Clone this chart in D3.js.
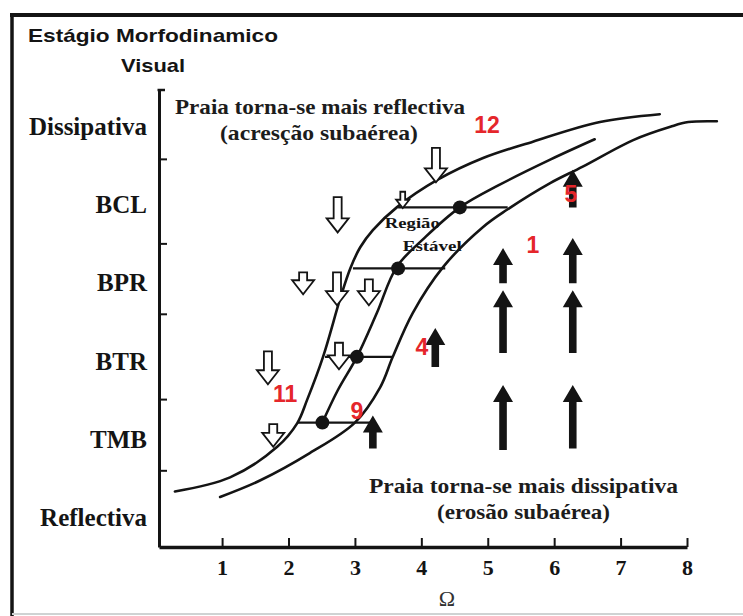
<!DOCTYPE html>
<html>
<head>
<meta charset="utf-8">
<script src="https://cdn.jsdelivr.net/npm/d3@7/dist/d3.min.js"></script>
<style>
  html, body { margin: 0; padding: 0; background: #fff; }
  svg { display: block; }
</style>
</head>
<body>
<svg id="chart" width="743" height="616"></svg>
<script>
// Morphodynamic stage (y) against dimensionless fall velocity Omega (x)
const stageLabels = ["Reflectiva", "TMB", "BTR", "BPR", "BCL", "Dissipativa"];
const stageValues = [0, 1, 2, 3, 4, 5];
const stageTicks = [0.60, 1.51, 2.60, 3.50, 4.58];
const omegaTicks = [1, 2, 3, 4, 5, 6, 7, 8];

// Three equilibrium curves [omega, stage]
const curveUpper = [[0.29,0.33],[1.12,0.51],[1.83,0.90],[2.13,1.20],[2.28,1.50],[2.52,2.05],[2.78,2.80],[2.93,3.18],[3.08,3.45],[3.27,3.67],[3.63,3.96],[4.24,4.31],[4.93,4.59],[5.68,4.80],[6.69,5.05],[7.59,5.15]];
const curveMiddle = [[2.51,1.21],[2.74,1.62],[3.03,2.05],[3.33,2.61],[3.63,3.20],[4.06,3.58],[4.58,3.96],[5.18,4.25],[5.94,4.57],[6.61,4.83]];
const curveLower = [[0.97,0.26],[1.57,0.47],[2.32,0.82],[3.00,1.21],[3.38,1.66],[3.57,2.05],[3.87,2.61],[4.33,3.20],[4.93,3.71],[5.29,3.93],[5.94,4.27],[6.43,4.48],[7.19,4.82],[7.75,4.99],[8.02,5.05],[8.45,5.06]];

// Horizontal stage bands: stage, omega start, omega end, equilibrium point
const stageLines = [
  { stage: 1.21, x0: 2.13, x1: 3.26, dot: 2.51 },
  { stage: 2.05, x0: 2.55, x1: 3.57, dot: 3.03 },
  { stage: 3.18, x0: 2.97, x1: 4.36, dot: 3.65 },
  { stage: 3.96, x0: 3.65, x1: 5.30, dot: 4.58 }
];

// Accretion arrows (hollow, pointing down): omega, stage top, stage tip, size
const accretionArrows = [
  [4.22, 4.72, 4.28, 1], [2.74, 4.09, 3.64, 1], [2.22, 3.13, 2.85, 1],
  [2.73, 3.13, 2.71, 1], [3.21, 3.04, 2.71, 1], [2.76, 2.23, 1.89, 1],
  [1.69, 2.12, 1.70, 1], [1.77, 1.19, 0.90, 1], [3.72, 4.16, 3.95, 0.6]
];

// Erosion arrows (solid, pointing up): omega, stage tip, stage base
const erosionArrows = [
  [5.23, 3.44, 2.99], [5.23, 2.90, 2.10], [5.23, 1.69, 0.86],
  [6.28, 3.57, 2.99], [6.28, 2.90, 2.10], [6.28, 1.69, 0.88],
  [6.28, 4.44, 3.96], [4.21, 2.42, 1.92], [3.27, 1.30, 0.88]
];

// Site numbers: label, omega, stage
const siteLabels = [
  ["12", 4.99, 5.01], ["5", 6.25, 4.13], ["1", 5.68, 3.48],
  ["4", 4.01, 2.18], ["11", 1.95, 1.58], ["9", 3.03, 1.36]
];

const svg = d3.select("#chart");
const serif = "'Liberation Serif', 'Times New Roman', serif";
const sans = "'Liberation Sans', Arial, sans-serif";
const ink = "#141414";
const red = "#e5262b";

const x = d3.scaleLinear().domain([0.05, 8]).range([159, 687]);
const y = d3.scaleLinear().domain([-0.38, 5.46]).range([547, 90]);

// Outer frame
svg.append("line").attr("x1", 10).attr("x2", 743).attr("y1", 15).attr("y2", 15)
  .attr("stroke", ink).attr("stroke-width", 4);
svg.append("line").attr("x1", 12).attr("x2", 12).attr("y1", 13).attr("y2", 616)
  .attr("stroke", ink).attr("stroke-width", 3.5);
svg.append("line").attr("x1", 12).attr("x2", 743).attr("y1", 614).attr("y2", 614)
  .attr("stroke", "#cfd3d3").attr("stroke-width", 2);

// Title
svg.append("text").attr("x", 28).attr("y", 35).attr("dy", "0.35em")
  .attr("font-family", sans).attr("font-weight", "bold").attr("font-size", 19)
  .attr("textLength", 250).attr("lengthAdjust", "spacingAndGlyphs")
  .attr("fill", ink).text("Estágio Morfodinamico");
svg.append("text").attr("x", 121).attr("y", 65).attr("dy", "0.35em")
  .attr("font-family", sans).attr("font-weight", "bold").attr("font-size", 19)
  .attr("textLength", 64).attr("lengthAdjust", "spacingAndGlyphs")
  .attr("fill", ink).text("Visual");

// Axes
const xAxis = d3.axisBottom(x).tickValues(omegaTicks).tickFormat(d3.format("d"))
  .tickSizeInner(-9).tickSizeOuter(0).tickPadding(12);
const gx = svg.append("g").attr("transform", `translate(0,${y(-0.38)})`).call(xAxis);
gx.select(".domain").attr("stroke", ink).attr("stroke-width", 3.5);
gx.selectAll(".tick line").attr("stroke", ink).attr("stroke-width", 2);
gx.selectAll(".tick text").attr("font-family", serif).attr("font-weight", "bold")
  .attr("font-size", 22).attr("fill", ink);

const yAxis = d3.axisLeft(y).tickValues(stageTicks).tickFormat("")
  .tickSizeInner(-8).tickSizeOuter(0);
const gy = svg.append("g").attr("transform", `translate(${x(0.05)},0)`).call(yAxis);
gy.select(".domain").attr("stroke", ink).attr("stroke-width", 3);
gy.selectAll(".tick line").attr("stroke", ink).attr("stroke-width", 2);
svg.append("line").attr("x1", x(0.05) - 1.5).attr("x2", x(0.05) + 6)
  .attr("y1", y(5.46)).attr("y2", y(5.46)).attr("stroke", ink).attr("stroke-width", 2.5);

// Stage names
svg.append("g").selectAll("text").data(stageValues).join("text")
  .attr("x", 147).attr("y", d => y(d)).attr("dy", "0.35em")
  .attr("text-anchor", "end").attr("font-family", serif).attr("font-weight", "bold")
  .attr("font-size", 25).attr("fill", ink)
  .text((d, i) => stageLabels[i]);

// Omega symbol
svg.append("text").attr("x", 447).attr("y", 598).attr("dy", "0.35em")
  .attr("text-anchor", "middle").attr("font-family", serif).attr("font-size", 22)
  .attr("fill", "#333").text("Ω");

// Curves
const line = d3.line().x(d => x(d[0])).y(d => y(d[1])).curve(d3.curveCatmullRom.alpha(0.5));
svg.append("g").selectAll("path").data([curveUpper, curveMiddle, curveLower]).join("path")
  .attr("d", line).attr("fill", "none").attr("stroke", ink).attr("stroke-width", 2.6)
  .attr("stroke-linecap", "round");

// Stage bands and equilibrium points
const bands = svg.append("g");
bands.selectAll("line").data(stageLines).join("line")
  .attr("x1", d => x(d.x0)).attr("x2", d => x(d.x1))
  .attr("y1", d => y(d.stage)).attr("y2", d => y(d.stage))
  .attr("stroke", ink).attr("stroke-width", 2.4);
bands.selectAll("circle").data(stageLines).join("circle")
  .attr("cx", d => x(d.dot)).attr("cy", d => y(d.stage)).attr("r", 7)
  .attr("fill", ink);

// Region label
svg.append("text").attr("x", x(3.45)).attr("y", y(3.76)).attr("dy", "0.35em")
  .attr("font-family", serif).attr("font-weight", "bold").attr("font-size", 15)
  .attr("textLength", 55).attr("lengthAdjust", "spacingAndGlyphs")
  .attr("fill", ink).text("Região");
svg.append("text").attr("x", x(3.72)).attr("y", y(3.47)).attr("dy", "0.35em")
  .attr("font-family", serif).attr("font-weight", "bold").attr("font-size", 15)
  .attr("textLength", 59).attr("lengthAdjust", "spacingAndGlyphs")
  .attr("fill", ink).text("Estável");

// Hollow accretion arrows
function downArrow(d) {
  const cx = x(d[0]), t = y(d[1]), b = y(d[2]), k = d[3];
  const sw = 4 * k, hw = 11 * k, hl = 14 * k;
  return `M${cx - sw},${t}L${cx + sw},${t}L${cx + sw},${b - hl}L${cx + hw},${b - hl}` +
         `L${cx},${b}L${cx - hw},${b - hl}L${cx - sw},${b - hl}Z`;
}
svg.append("g").selectAll("path").data(accretionArrows).join("path")
  .attr("d", downArrow).attr("fill", "#fff").attr("stroke", ink)
  .attr("stroke-width", 1.8).attr("stroke-linejoin", "miter");

// Solid erosion arrows
function upArrow(d) {
  const cx = x(d[0]), t = y(d[1]), b = y(d[2]);
  const sw = 3.8, hw = 10, hl = 17;
  return `M${cx},${t}L${cx + hw},${t + hl}L${cx + sw},${t + hl}L${cx + sw},${b}` +
         `L${cx - sw},${b}L${cx - sw},${t + hl}L${cx - hw},${t + hl}Z`;
}
svg.append("g").selectAll("path").data(erosionArrows).join("path")
  .attr("d", upArrow).attr("fill", ink);

// Direction notes
const notes = [
  ["Praia torna-se mais reflectiva", 175, 107, 290],
  ["(acresção subaérea)", 220, 133, 198],
  ["Praia torna-se mais dissipativa", 369, 486, 309],
  ["(erosão subaérea)", 437, 512, 173]
];
svg.append("g").selectAll("text").data(notes).join("text")
  .attr("x", d => d[1]).attr("y", d => d[2]).attr("dy", "0.35em")
  .attr("font-family", serif).attr("font-weight", "bold").attr("font-size", 21)
  .attr("textLength", d => d[3]).attr("lengthAdjust", "spacingAndGlyphs")
  .attr("fill", "#1c1c1c").text(d => d[0]);

// Site numbers
svg.append("g").selectAll("text").data(siteLabels).join("text")
  .attr("x", d => x(d[1])).attr("y", d => y(d[2])).attr("dy", "0.36em")
  .attr("text-anchor", "middle").attr("font-family", sans).attr("font-weight", "bold")
  .attr("font-size", 23).attr("fill", red).text(d => d[0]);
</script>
</body>
</html>
